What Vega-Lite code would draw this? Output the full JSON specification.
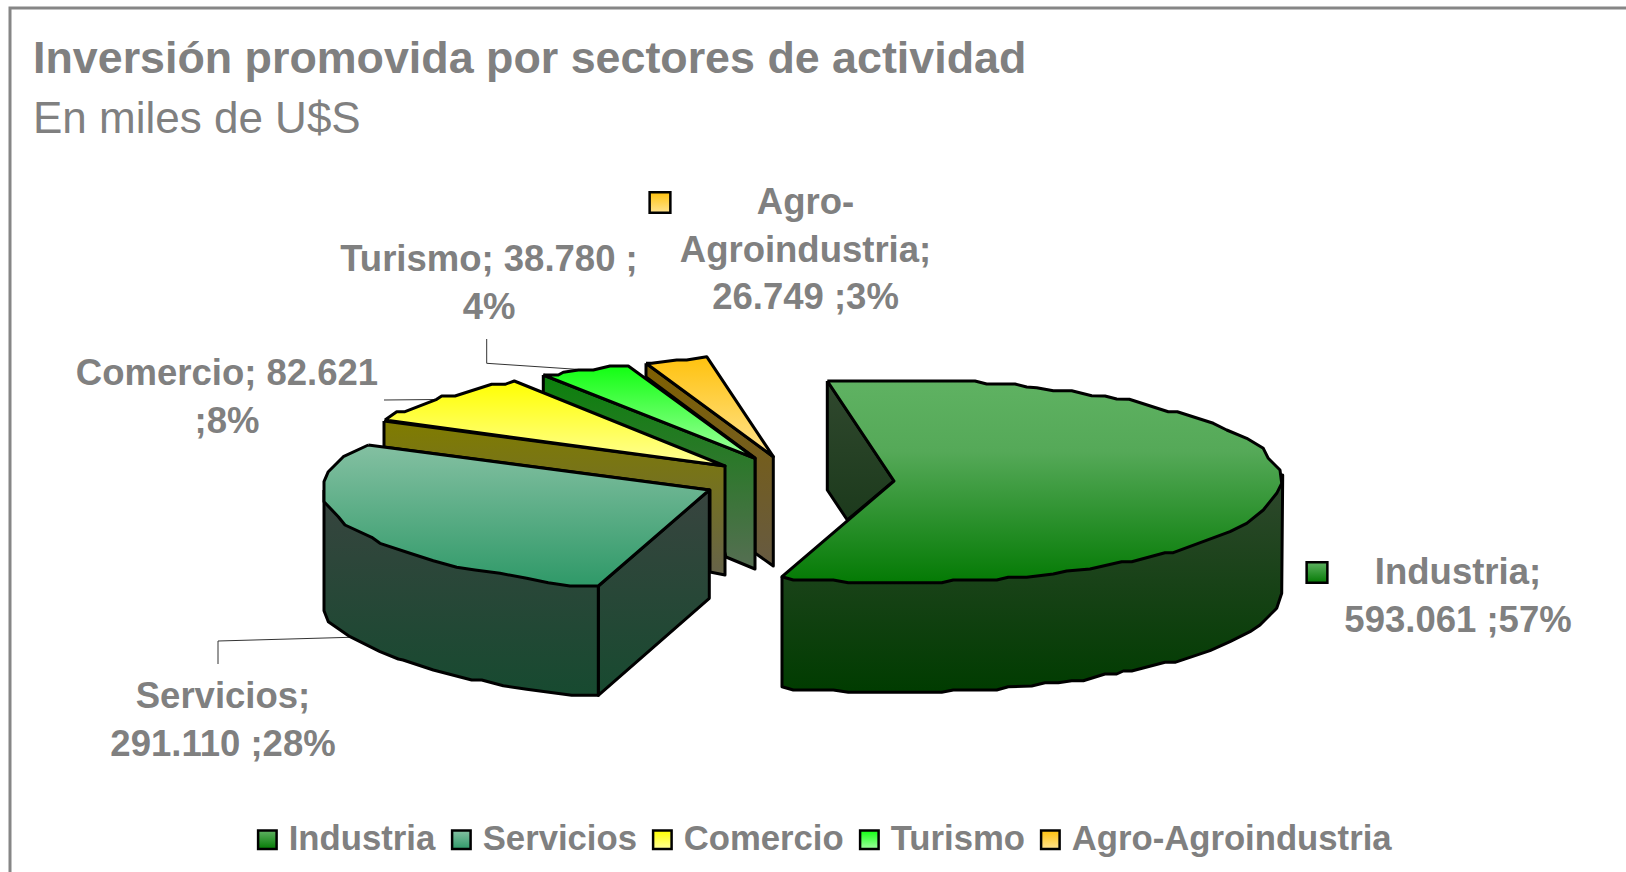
{"$schema":"https://vega.github.io/schema/vega-lite/v6.json","width":1626,"height":872,"padding":0,"autosize":"none","background":"white","config":{"view":{"stroke":null},"font":"Liberation Sans"},
"title":{"text":"Inversión promovida por sectores de actividad","subtitle":"En miles de U$S","anchor":"start","frame":"group","dx":33,"dy":178,"offset":0,"baseline":"alphabetic","font":"Liberation Sans","fontSize":44.8,"fontWeight":"bold","color":"#808080","subtitleFont":"Liberation Sans","subtitleFontSize":44,"subtitleFontWeight":"normal","subtitleColor":"#808080","subtitlePadding":15},
"datasets":{
"sectors":[
{"sector":"Agro-Agroindustria","value":26749,"share":3,"label":"Agro-\nAgroindustria;\n26.749 ;3%","labelX":805.5,"labelY":214,"keyX":660,"keyY":202.5},
{"sector":"Turismo","value":38780,"share":4,"label":"Turismo; 38.780 ;\n4%","labelX":489,"labelY":271},
{"sector":"Comercio","value":82621,"share":8,"label":"Comercio; 82.621\n;8%","labelX":227,"labelY":385},
{"sector":"Servicios","value":291110,"share":28,"label":"Servicios;\n291.110 ;28%","labelX":223,"labelY":708},
{"sector":"Industria","value":593061,"share":57,"label":"Industria;\n593.061 ;57%","labelX":1458,"labelY":584,"keyX":1317,"keyY":572.5}],
"frame":[{"i":0,"x":10,"y":872},{"i":1,"x":10,"y":8},{"i":2,"x":1626,"y":8}],
"leaders":[
{"line":"Servicios","i":0,"x":218,"y":664},{"line":"Servicios","i":1,"x":218,"y":641},{"line":"Servicios","i":2,"x":350,"y":637.3},
{"line":"Comercio","i":0,"x":384,"y":400},{"line":"Comercio","i":1,"x":438,"y":399.5},
{"line":"Turismo","i":0,"x":486.7,"y":339},{"line":"Turismo","i":1,"x":486.7,"y":363.3},{"line":"Turismo","i":2,"x":576.7,"y":369.3}],
"faces":[
{"part":"agro_side","i":0,"x":646,"y":363.3},{"part":"agro_side","i":1,"x":773.3,"y":456.7},{"part":"agro_side","i":2,"x":773.3,"y":566},{"part":"agro_side","i":3,"x":755,"y":553},{"part":"agro_side","i":4,"x":755,"y":458},{"part":"agro_side","i":5,"x":646,"y":377},{"part":"agro_side","i":6,"x":646,"y":363.3},
{"part":"agro_top","i":0,"x":646,"y":363.3},{"part":"agro_top","i":1,"x":651.7,"y":363.3},{"part":"agro_top","i":2,"x":676.7,"y":360},{"part":"agro_top","i":3,"x":686.7,"y":360},{"part":"agro_top","i":4,"x":706.7,"y":356.7},{"part":"agro_top","i":5,"x":773.3,"y":456.7},{"part":"agro_top","i":6,"x":646,"y":363.3},
{"part":"tur_side","i":0,"x":543.3,"y":375},{"part":"tur_side","i":1,"x":755,"y":458.3},{"part":"tur_side","i":2,"x":755,"y":569},{"part":"tur_side","i":3,"x":726,"y":557},{"part":"tur_side","i":4,"x":700,"y":466},{"part":"tur_side","i":5,"x":543.3,"y":393},{"part":"tur_side","i":6,"x":543.3,"y":375},
{"part":"tur_top","i":0,"x":543.3,"y":375},{"part":"tur_top","i":1,"x":558.3,"y":375},{"part":"tur_top","i":2,"x":563.3,"y":372.3},{"part":"tur_top","i":3,"x":578.3,"y":370},{"part":"tur_top","i":4,"x":593.3,"y":370},{"part":"tur_top","i":5,"x":610,"y":366},{"part":"tur_top","i":6,"x":628.3,"y":366},{"part":"tur_top","i":7,"x":755,"y":458.3},{"part":"tur_top","i":8,"x":543.3,"y":375},
{"part":"com_side","i":0,"x":384,"y":421},{"part":"com_side","i":1,"x":725,"y":466},{"part":"com_side","i":2,"x":725,"y":575},{"part":"com_side","i":3,"x":710,"y":572},{"part":"com_side","i":4,"x":710,"y":490},{"part":"com_side","i":5,"x":384,"y":447},{"part":"com_side","i":6,"x":384,"y":421},
{"part":"com_top","i":0,"x":385,"y":420},{"part":"com_top","i":1,"x":396.7,"y":411.7},{"part":"com_top","i":2,"x":405,"y":411.7},{"part":"com_top","i":3,"x":436.7,"y":399.3},{"part":"com_top","i":4,"x":441.7,"y":396},{"part":"com_top","i":5,"x":455,"y":396},{"part":"com_top","i":6,"x":491.7,"y":384.3},{"part":"com_top","i":7,"x":505,"y":384.3},{"part":"com_top","i":8,"x":514.3,"y":381},{"part":"com_top","i":9,"x":725,"y":466},{"part":"com_top","i":10,"x":385,"y":420},
{"part":"ser_inner","i":0,"x":598.3,"y":586},{"part":"ser_inner","i":1,"x":709.3,"y":490},{"part":"ser_inner","i":2,"x":709.3,"y":598.3},{"part":"ser_inner","i":3,"x":598.3,"y":695.3},{"part":"ser_inner","i":4,"x":598.3,"y":586},
{"part":"ser_outer","i":0,"x":324,"y":490},{"part":"ser_outer","i":1,"x":324,"y":610.7},{"part":"ser_outer","i":2,"x":328.3,"y":621.7},{"part":"ser_outer","i":3,"x":350,"y":636.7},{"part":"ser_outer","i":4,"x":380,"y":651.7},{"part":"ser_outer","i":5,"x":398.3,"y":659},{"part":"ser_outer","i":6,"x":403,"y":660},{"part":"ser_outer","i":7,"x":433.3,"y":670},{"part":"ser_outer","i":8,"x":465,"y":678.3},{"part":"ser_outer","i":9,"x":471.7,"y":680},{"part":"ser_outer","i":10,"x":481.7,"y":680},{"part":"ser_outer","i":11,"x":503.3,"y":685.7},{"part":"ser_outer","i":12,"x":526.7,"y":689.3},{"part":"ser_outer","i":13,"x":571.7,"y":695.3},{"part":"ser_outer","i":14,"x":598.3,"y":695.3},{"part":"ser_outer","i":15,"x":598.3,"y":586},{"part":"ser_outer","i":16,"x":324,"y":490},
{"part":"ser_top","i":0,"x":368.3,"y":445},{"part":"ser_top","i":1,"x":709.3,"y":490},{"part":"ser_top","i":2,"x":598.3,"y":586},{"part":"ser_top","i":3,"x":570,"y":586},{"part":"ser_top","i":4,"x":548.3,"y":582.7},{"part":"ser_top","i":5,"x":526.7,"y":578.3},{"part":"ser_top","i":6,"x":500,"y":573.3},{"part":"ser_top","i":7,"x":475,"y":570},{"part":"ser_top","i":8,"x":456.7,"y":567.3},{"part":"ser_top","i":9,"x":433.3,"y":560.7},{"part":"ser_top","i":10,"x":410,"y":553.3},{"part":"ser_top","i":11,"x":380,"y":543.3},{"part":"ser_top","i":12,"x":371.7,"y":537.3},{"part":"ser_top","i":13,"x":345,"y":525},{"part":"ser_top","i":14,"x":338.3,"y":516.7},{"part":"ser_top","i":15,"x":324,"y":501.7},{"part":"ser_top","i":16,"x":324,"y":481.7},{"part":"ser_top","i":17,"x":328.3,"y":471.7},{"part":"ser_top","i":18,"x":343.3,"y":456.7},{"part":"ser_top","i":19,"x":368.3,"y":445},
{"part":"ind_inner","i":0,"x":827.3,"y":381},{"part":"ind_inner","i":1,"x":894,"y":481},{"part":"ind_inner","i":2,"x":847.3,"y":520},{"part":"ind_inner","i":3,"x":827.3,"y":490},{"part":"ind_inner","i":4,"x":827.3,"y":381},
{"part":"ind_outer","i":0,"x":782,"y":576.7},{"part":"ind_outer","i":1,"x":782,"y":686.7},{"part":"ind_outer","i":2,"x":793.3,"y":690},{"part":"ind_outer","i":3,"x":833.3,"y":690},{"part":"ind_outer","i":4,"x":848.3,"y":692.3},{"part":"ind_outer","i":5,"x":941.7,"y":692.3},{"part":"ind_outer","i":6,"x":953.3,"y":690},{"part":"ind_outer","i":7,"x":996.7,"y":690},{"part":"ind_outer","i":8,"x":1008.3,"y":686.7},{"part":"ind_outer","i":9,"x":1031.7,"y":686},{"part":"ind_outer","i":10,"x":1045,"y":682.7},{"part":"ind_outer","i":11,"x":1058.3,"y":682.7},{"part":"ind_outer","i":12,"x":1071.7,"y":680.7},{"part":"ind_outer","i":13,"x":1083.3,"y":680.7},{"part":"ind_outer","i":14,"x":1105,"y":674},{"part":"ind_outer","i":15,"x":1116.7,"y":674},{"part":"ind_outer","i":16,"x":1123.3,"y":671},{"part":"ind_outer","i":17,"x":1131.7,"y":671},{"part":"ind_outer","i":18,"x":1165,"y":662.3},{"part":"ind_outer","i":19,"x":1175,"y":662.3},{"part":"ind_outer","i":20,"x":1210,"y":650.7},{"part":"ind_outer","i":21,"x":1230,"y":641.7},{"part":"ind_outer","i":22,"x":1250,"y":631.7},{"part":"ind_outer","i":23,"x":1260,"y":625},{"part":"ind_outer","i":24,"x":1276.7,"y":608.3},{"part":"ind_outer","i":25,"x":1281.7,"y":593.3},{"part":"ind_outer","i":26,"x":1282.7,"y":475},{"part":"ind_outer","i":27,"x":782,"y":576.7},
{"part":"ind_top","i":0,"x":827.3,"y":381},{"part":"ind_top","i":1,"x":975,"y":381},{"part":"ind_top","i":2,"x":986.7,"y":384},{"part":"ind_top","i":3,"x":1015,"y":384},{"part":"ind_top","i":4,"x":1026.7,"y":387},{"part":"ind_top","i":5,"x":1036.7,"y":387.7},{"part":"ind_top","i":6,"x":1053.3,"y":390.7},{"part":"ind_top","i":7,"x":1071.7,"y":390.7},{"part":"ind_top","i":8,"x":1091.7,"y":395.7},{"part":"ind_top","i":9,"x":1105,"y":396},{"part":"ind_top","i":10,"x":1116.7,"y":399},{"part":"ind_top","i":11,"x":1129.3,"y":399.3},{"part":"ind_top","i":12,"x":1168.3,"y":411.7},{"part":"ind_top","i":13,"x":1177.3,"y":411.7},{"part":"ind_top","i":14,"x":1213.3,"y":423.3},{"part":"ind_top","i":15,"x":1226.7,"y":430},{"part":"ind_top","i":16,"x":1246.7,"y":438.3},{"part":"ind_top","i":17,"x":1263.3,"y":448.3},{"part":"ind_top","i":18,"x":1268.3,"y":458.3},{"part":"ind_top","i":19,"x":1280,"y":470},{"part":"ind_top","i":20,"x":1281.7,"y":483.3},{"part":"ind_top","i":21,"x":1276.7,"y":493.3},{"part":"ind_top","i":22,"x":1263.3,"y":510},{"part":"ind_top","i":23,"x":1246.7,"y":523.3},{"part":"ind_top","i":24,"x":1230,"y":531.7},{"part":"ind_top","i":25,"x":1173.3,"y":552.7},{"part":"ind_top","i":26,"x":1165,"y":552.7},{"part":"ind_top","i":27,"x":1131.7,"y":561.7},{"part":"ind_top","i":28,"x":1121.7,"y":561.7},{"part":"ind_top","i":29,"x":1090,"y":569},{"part":"ind_top","i":30,"x":1066.7,"y":571},{"part":"ind_top","i":31,"x":1053.3,"y":574},{"part":"ind_top","i":32,"x":1026.7,"y":577.3},{"part":"ind_top","i":33,"x":1008.3,"y":577.3},{"part":"ind_top","i":34,"x":996.7,"y":580},{"part":"ind_top","i":35,"x":953.3,"y":580},{"part":"ind_top","i":36,"x":941.7,"y":582.7},{"part":"ind_top","i":37,"x":848.3,"y":582.7},{"part":"ind_top","i":38,"x":833.3,"y":580},{"part":"ind_top","i":39,"x":793.3,"y":580},{"part":"ind_top","i":40,"x":782,"y":576.7},{"part":"ind_top","i":41,"x":894,"y":481},{"part":"ind_top","i":42,"x":827.3,"y":381}
]},
"resolve":{"scale":{"fill":"independent"}},
"layer":[
{"data":{"name":"frame"},"mark":{"type":"line","stroke":"#868686","strokeWidth":3},"encoding":{"x":{"field":"x","type":"quantitative","scale":{"domain":[0,1626],"nice":false,"zero":false},"axis":null},"y":{"field":"y","type":"quantitative","scale":{"domain":[872,0],"nice":false,"zero":false},"axis":null},"order":{"field":"i"}}},
{"data":{"name":"leaders"},"mark":{"type":"line","stroke":"#333333","strokeWidth":1},"encoding":{"x":{"field":"x","type":"quantitative"},"y":{"field":"y","type":"quantitative"},"detail":{"field":"line"},"order":{"field":"i"}}},
{"data":{"name":"faces"},"mark":{"type":"line","stroke":"black","strokeWidth":3,"strokeJoin":"round"},"encoding":{"x":{"field":"x","type":"quantitative"},"y":{"field":"y","type":"quantitative"},"detail":{"field":"part"},"order":{"field":"i"},
"fill":{"field":"part","type":"nominal","legend":null,"scale":{"domain":["agro_side","agro_top","tur_side","tur_top","com_side","com_top","ser_inner","ser_outer","ser_top","ind_inner","ind_outer","ind_top"],"range":[
{"expr":"{gradient:'linear',x1:0,y1:0,x2:0,y2:1,stops:[{offset:0,color:'#7f6000'},{offset:1,color:'#665a42'}]}"},
{"expr":"{gradient:'linear',x1:0,y1:0,x2:0,y2:1,stops:[{offset:0,color:'#ffc20e'},{offset:1,color:'#ffe38f'}]}"},
{"expr":"{gradient:'linear',x1:0,y1:0,x2:0,y2:1,stops:[{offset:0,color:'#0b800b'},{offset:1,color:'#566e53'}]}"},
{"expr":"{gradient:'linear',x1:0,y1:0,x2:0,y2:1,stops:[{offset:0,color:'#12ff12'},{offset:1,color:'#a0ffa0'}]}"},
{"expr":"{gradient:'linear',x1:0,y1:0,x2:0,y2:1,stops:[{offset:0,color:'#807c00'},{offset:1,color:'#66634a'}]}"},
{"expr":"{gradient:'linear',x1:0,y1:0,x2:0,y2:1,stops:[{offset:0,color:'#ffff00'},{offset:1,color:'#ffff99'}]}"},
{"expr":"{gradient:'linear',x1:0,y1:0,x2:0,y2:1,stops:[{offset:0,color:'#38443f'},{offset:1,color:'#184a30'}]}"},
{"expr":"{gradient:'linear',x1:0,y1:0,x2:0,y2:1,stops:[{offset:0,color:'#38443f'},{offset:1,color:'#174a30'}]}"},
{"expr":"{gradient:'linear',x1:0,y1:0,x2:0,y2:1,stops:[{offset:0,color:'#84c0a2'},{offset:1,color:'#2f9968'}]}"},
{"expr":"{gradient:'linear',x1:0,y1:0,x2:0,y2:1,stops:[{offset:0,color:'#30482e'},{offset:1,color:'#1c3a1c'}]}"},
{"expr":"{gradient:'linear',x1:0,y1:0,x2:0,y2:1,stops:[{offset:0,color:'#30482e'},{offset:1,color:'#003c00'}]}"},
{"expr":"{gradient:'linear',x1:0,y1:0,x2:0,y2:1,stops:[{offset:0,color:'#5fb262'},{offset:0.35,color:'#55a958'},{offset:1,color:'#047a04'}]}"}
]}}}},
{"data":{"name":"sectors"},"mark":{"type":"text","font":"Liberation Sans","fontSize":36.5,"fontWeight":"bold","color":"#808080","align":"center","baseline":"alphabetic","lineBreak":"\n","lineHeight":47.7},"encoding":{"x":{"field":"labelX","type":"quantitative"},"y":{"field":"labelY","type":"quantitative"},"text":{"field":"label"}}},
{"data":{"name":"sectors"},"transform":[{"filter":"datum.keyX > 0"}],"mark":{"type":"point","shape":"square","filled":true,"size":430,"stroke":"black","strokeWidth":2.5,"opacity":1},"encoding":{"x":{"field":"keyX","type":"quantitative"},"y":{"field":"keyY","type":"quantitative"},
"fill":{"field":"sector","type":"nominal","scale":{"domain":["Industria","Servicios","Comercio","Turismo","Agro-Agroindustria"],"range":[
{"expr":"{gradient:'linear',x1:0,y1:0,x2:0,y2:1,stops:[{offset:0,color:'#5fb262'},{offset:1,color:'#047a04'}]}"},
{"expr":"{gradient:'linear',x1:0,y1:0,x2:0,y2:1,stops:[{offset:0,color:'#84c0a2'},{offset:1,color:'#2f9968'}]}"},
{"expr":"{gradient:'linear',x1:0,y1:0,x2:0,y2:1,stops:[{offset:0,color:'#ffff00'},{offset:1,color:'#ffff99'}]}"},
{"expr":"{gradient:'linear',x1:0,y1:0,x2:0,y2:1,stops:[{offset:0,color:'#12ff12'},{offset:1,color:'#a0ffa0'}]}"},
{"expr":"{gradient:'linear',x1:0,y1:0,x2:0,y2:1,stops:[{offset:0,color:'#ffc20e'},{offset:1,color:'#ffe38f'}]}"}
]},"legend":{"title":null,"orient":"none","legendX":250,"legendY":822,"direction":"horizontal","columns":5,"symbolType":"square","symbolSize":342,"symbolStrokeColor":"black","symbolStrokeWidth":2.5,"symbolOpacity":1,"labelFont":"Liberation Sans","labelFontSize":34.7,"labelFontWeight":"bold","labelColor":"#808080","labelOffset":4,"labelLimit":0,"columnPadding":8,"padding":0}}}}
]}
